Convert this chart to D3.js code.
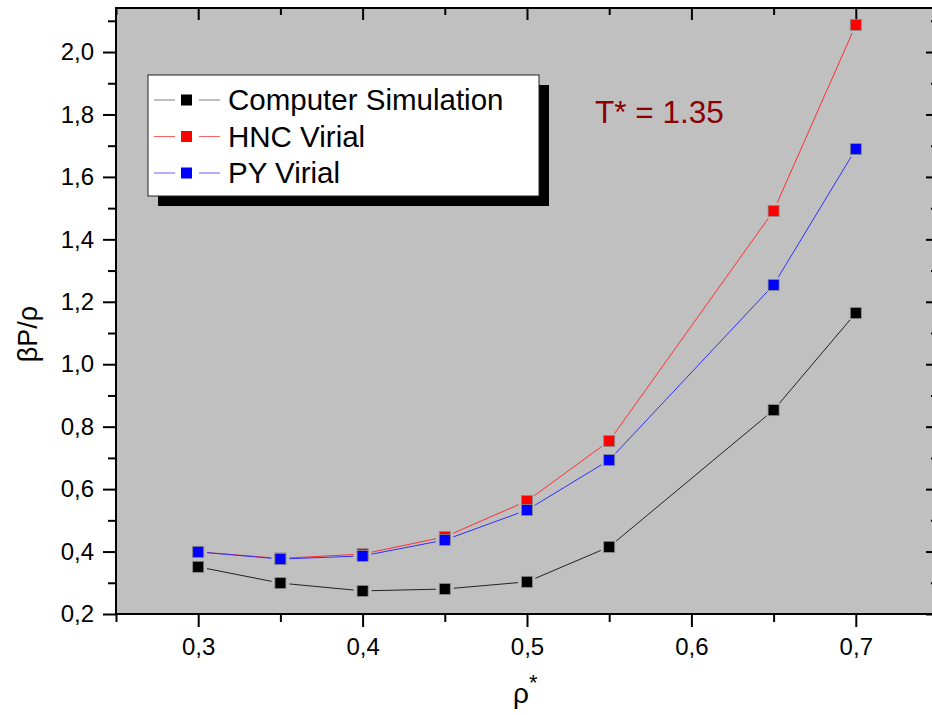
<!DOCTYPE html>
<html>
<head>
<meta charset="utf-8">
<script src="https://cdn.jsdelivr.net/npm/d3@7"></script>
<style>
  body { margin: 0; background: #fff; }
  svg { display: block; font-family: "Liberation Sans", Arial, sans-serif; }
</style>
</head>
<body>
<div id="chart"></div>
<script>
// reduced density values
const rho = [0.3, 0.35, 0.4, 0.45, 0.5, 0.55, 0.65, 0.7];
const simulation = [0.351, 0.299, 0.274, 0.280, 0.303, 0.415, 0.853, 1.164];
const hncVirial = [0.399, 0.378, 0.392, 0.447, 0.562, 0.754, 1.491, 2.087];
const pyVirial = [0.399, 0.376, 0.386, 0.437, 0.533, 0.693, 1.254, 1.689];

const seriesNames = ["Computer Simulation", "HNC Virial", "PY Virial"];
const xMajor = [0.3, 0.4, 0.5, 0.6, 0.7];
const xMinor = [0.25, 0.35, 0.45, 0.55, 0.65, 0.75];
const yMajor = [0.2, 0.4, 0.6, 0.8, 1.0, 1.2, 1.4, 1.6, 1.8, 2.0];
const yMinor = [0.3, 0.5, 0.7, 0.9, 1.1, 1.3, 1.5, 1.7, 1.9, 2.1];

const W = 932, H = 715;
const margin = { top: 8, right: -6, bottom: 101, left: 116 };

const series = [
  { name: seriesNames[0], values: simulation, color: "#000", line: "#222", legendLine: "#808080" },
  { name: seriesNames[1], values: hncVirial, color: "#ff0000", line: "#ff3030", legendLine: "#ff6060" },
  { name: seriesNames[2], values: pyVirial, color: "#0000ff", line: "#3030ff", legendLine: "#6060ff" }
];

const locale = d3.formatLocale({ decimal: ",", thousands: ".", grouping: [3], currency: ["", ""] });
const fmt = locale.format(".1f");

const svg = d3.select("#chart").append("svg")
  .attr("width", W)
  .attr("height", H);

const x = d3.scaleLinear().domain([0.25, 0.75]).range([margin.left, W - margin.right]);
const y = d3.scaleLinear().domain([0.2, 2.141]).range([H - margin.bottom, margin.top]);

const x0 = x.range()[0], x1 = x.range()[1];
const y0 = y.range()[0], y1 = y.range()[1];

// plot background
svg.append("rect")
  .attr("x", x0).attr("y", y1)
  .attr("width", x1 - x0).attr("height", y0 - y1)
  .attr("fill", "#c0c0c0");

function styleAxis(g) {
  g.select(".domain").remove();
  g.selectAll(".tick line").attr("stroke", "#000").attr("stroke-width", 2);
  g.selectAll(".tick text")
    .attr("fill", "#000")
    .style("font-size", "24px")
    .style("font-family", "Liberation Sans, Arial, sans-serif");
}

// bottom axis (ticks outward)
svg.append("g")
  .attr("transform", `translate(0,${y0})`)
  .call(d3.axisBottom(x).tickValues(xMajor).tickSize(13).tickPadding(11).tickFormat(fmt))
  .call(styleAxis);
svg.append("g")
  .attr("transform", `translate(0,${y0})`)
  .call(d3.axisBottom(x).tickValues(xMinor).tickSize(8).tickFormat(""))
  .call(styleAxis);

// top axis (ticks inward)
svg.append("g")
  .attr("transform", `translate(0,${y1})`)
  .call(d3.axisBottom(x).tickValues(xMajor).tickSize(12).tickFormat(""))
  .call(styleAxis);
svg.append("g")
  .attr("transform", `translate(0,${y1})`)
  .call(d3.axisBottom(x).tickValues(xMinor).tickSize(7).tickFormat(""))
  .call(styleAxis);

// left axis (ticks outward)
svg.append("g")
  .attr("transform", `translate(${x0},0)`)
  .call(d3.axisLeft(y).tickValues(yMajor).tickSize(13).tickPadding(9).tickFormat(fmt))
  .call(styleAxis);
svg.append("g")
  .attr("transform", `translate(${x0},0)`)
  .call(d3.axisLeft(y).tickValues(yMinor).tickSize(8).tickFormat(""))
  .call(styleAxis);

// right axis (ticks inward)
svg.append("g")
  .attr("transform", `translate(${x1},0)`)
  .call(d3.axisLeft(y).tickValues(yMajor).tickSize(12).tickFormat(""))
  .call(styleAxis);
svg.append("g")
  .attr("transform", `translate(${x1},0)`)
  .call(d3.axisLeft(y).tickValues(yMinor).tickSize(7).tickFormat(""))
  .call(styleAxis);

// frame
svg.append("rect")
  .attr("x", x0).attr("y", y1)
  .attr("width", x1 - x0).attr("height", y0 - y1)
  .attr("fill", "none")
  .attr("stroke", "#000")
  .attr("stroke-width", 2);

// series lines, segments stopped short of the markers
const gap = 9;
const plot = svg.append("g");
series.forEach((s) => {
  const pts = rho.map((r, i) => [x(r), y(s.values[i])]);
  const segs = d3.pairs(pts).map(([a, b]) => {
    const dx = b[0] - a[0], dy = b[1] - a[1];
    const len = Math.hypot(dx, dy);
    const ux = dx / len, uy = dy / len;
    return [a[0] + ux * gap, a[1] + uy * gap, b[0] - ux * gap, b[1] - uy * gap, len];
  }).filter((d) => d[4] > gap * 2);
  plot.append("g").selectAll("line")
    .data(segs)
    .join("line")
    .attr("x1", (d) => d[0]).attr("y1", (d) => d[1])
    .attr("x2", (d) => d[2]).attr("y2", (d) => d[3])
    .attr("stroke", s.line)
    .attr("stroke-width", 1);
  plot.append("g").selectAll("rect")
    .data(rho)
    .join("rect")
    .attr("x", (d) => x(d) - 5.5)
    .attr("y", (d, i) => y(s.values[i]) - 5.5)
    .attr("width", 11).attr("height", 11)
    .attr("fill", s.color)
    .attr("stroke", "#8a8a8a")
    .attr("stroke-width", 0.8);
});

// legend
const legend = svg.append("g").attr("transform", "translate(148,75)");
legend.append("rect")
  .attr("x", 10).attr("y", 10)
  .attr("width", 391).attr("height", 121)
  .attr("fill", "#000");
legend.append("rect")
  .attr("x", 0).attr("y", 0)
  .attr("width", 391).attr("height", 121)
  .attr("fill", "#fff")
  .attr("stroke", "#222")
  .attr("stroke-width", 1);
const rows = legend.selectAll("g.row")
  .data(series)
  .join("g")
  .attr("class", "row")
  .attr("transform", (d, i) => `translate(0,${25 + i * 36.5})`);
rows.append("line").attr("x1", 6).attr("x2", 27).attr("stroke", (d) => d.legendLine);
rows.append("line").attr("x1", 51).attr("x2", 72).attr("stroke", (d) => d.legendLine);
rows.append("rect")
  .attr("x", 33).attr("y", -5.5)
  .attr("width", 11).attr("height", 11)
  .attr("fill", (d) => d.color);
rows.append("text")
  .attr("x", 80).attr("y", 10)
  .style("font-size", "29.5px")
  .attr("fill", "#000")
  .text((d) => d.name);

// temperature annotation
svg.append("text")
  .attr("x", 595).attr("y", 123)
  .style("font-size", "31.5px")
  .attr("fill", "#8b0000")
  .text("T* = 1.35");

// axis titles
const xt = svg.append("text")
  .attr("x", 513).attr("y", 703)
  .style("font-size", "28px")
  .attr("fill", "#000");
xt.append("tspan").text("ρ");
xt.append("tspan").attr("dy", -13).style("font-size", "22px").text("*");

svg.append("text")
  .attr("transform", "translate(37,334) rotate(-90)")
  .attr("text-anchor", "middle")
  .style("font-size", "27px")
  .attr("fill", "#000")
  .text("βP/ρ");
</script>
</body>
</html>
